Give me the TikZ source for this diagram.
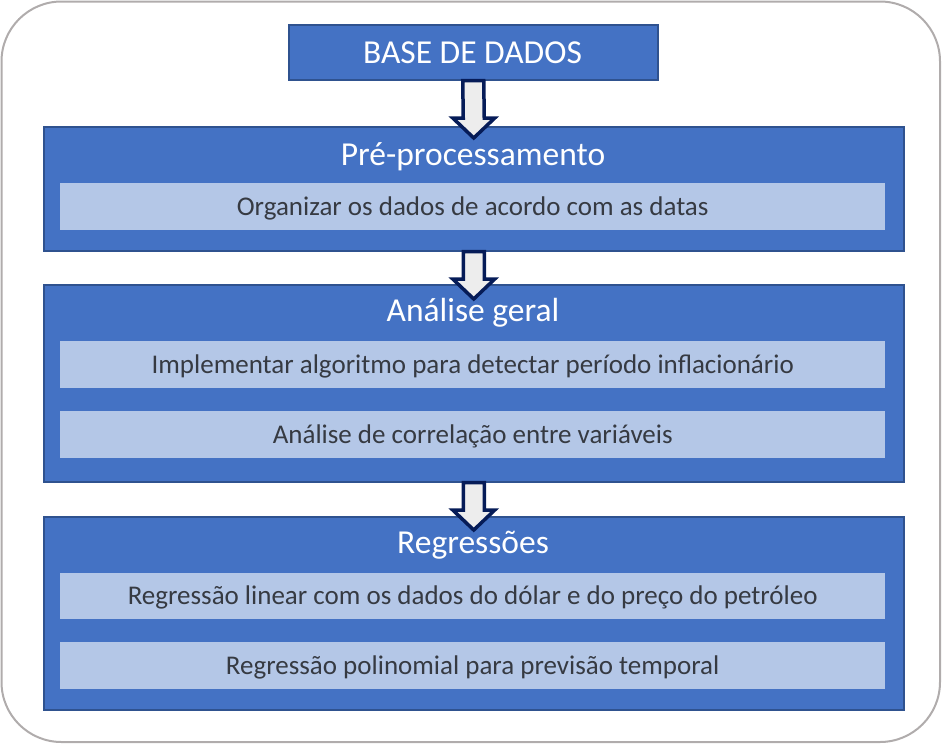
\documentclass[tikz,border=0pt]{standalone}
\usepackage{fontspec}
\setmainfont{Carlito}
\usetikzlibrary{calc}
\definecolor{boxblue}{HTML}{4472C4}
\definecolor{boxedge}{HTML}{2F528F}
\definecolor{innerblue}{HTML}{B4C7E7}
\definecolor{arrowedge}{HTML}{061C58}
\definecolor{arrowfill}{HTML}{EDEDED}
\definecolor{outergray}{HTML}{B0ACAC}
\definecolor{innertext}{HTML}{363A42}
\tikzset{
  panel/.style={draw=boxedge, line width=1.5pt, fill=boxblue, anchor=north west, inner sep=0pt},
  subbox/.style={fill=innerblue, anchor=north west, inner sep=0pt},
  subtext/.style={text=innertext, font=\fontsize{27}{30}\selectfont},
  titletext/.style={text=white, font=\fontsize{33.5}{36}\selectfont},
  flowarrow/.style={draw=arrowedge, line width=3.5pt, fill=arrowfill, line join=miter},
}
% #1 source node, #2 target node, #3 tip depth below target top
\newcommand{\flowarr}[3]{%
  \draw[flowarrow] ($(#1.south)+(-10.5,0)$) -- ($(#2.north)+(-10.5,#3-20)$) -- ($(#2.north)+(-21,#3-20)$)
    -- ($(#2.north)+(0,#3)$) -- ($(#2.north)+(21,#3-20)$) -- ($(#2.north)+(10.5,#3-20)$)
    -- ($(#1.south)+(10.5,0)$) -- cycle;}
\begin{document}
\begin{tikzpicture}[x=1pt,y=-1pt]
\useasboundingbox (0,0) rectangle (945,744);
\draw[outergray, line width=2pt, rounded corners=60pt] (1.5,1.5) rectangle (940,742);
% base
\node[panel, minimum width=369pt, minimum height=55pt] (base) at (288,24) {};
\node[titletext] (baset) at (472.5,52.5) {BASE DE DADOS};
% pre-processamento
\node[panel, minimum width=860pt, minimum height=124pt] (pre) at (43,126) {};
\node[titletext] (pret) at (473,157) {Pré-processamento};
\node[subbox, minimum width=825pt, minimum height=47pt] (pre1) at (60,183) {};
\node[subtext] (pre1t) at ($(pre1.center)+(0,1.5)$) {Organizar os dados de acordo com as datas};
% analise geral
\node[panel, minimum width=860pt, minimum height=197pt] (ana) at (43,284) {};
\node[titletext] (anat) at (473,313) {Análise geral};
\node[subbox, minimum width=825pt, minimum height=47pt] (ana1) at (60,341) {};
\node[subtext] (ana1t) at ($(ana1.center)+(0,1.5)$) {Implementar algoritmo para detectar período inflacionário};
\node[subbox, minimum width=825pt, minimum height=47pt] (ana2) at (60,411) {};
\node[subtext] (ana2t) at ($(ana2.center)+(0,1.5)$) {Análise de correlação entre variáveis};
% regressoes
\node[panel, minimum width=860pt, minimum height=193pt] (reg) at (43,516) {};
\node[titletext] (regt) at (473,545) {Regressões};
\node[subbox, minimum width=825pt, minimum height=46pt] (reg1) at (60,573) {};
\node[subtext] (reg1t) at ($(reg1.center)+(0,1.5)$) {Regressão linear com os dados do dólar e do preço do petróleo};
\node[subbox, minimum width=825pt, minimum height=47pt] (reg2) at (60,642) {};
\node[subtext] (reg2t) at ($(reg2.center)+(0,1.5)$) {Regressão polinomial para previsão temporal};
% arrows
\flowarr{base}{pre}{12}
\flowarr{pre}{ana}{15}
\flowarr{ana}{reg}{14}
\end{tikzpicture}
\end{document}
